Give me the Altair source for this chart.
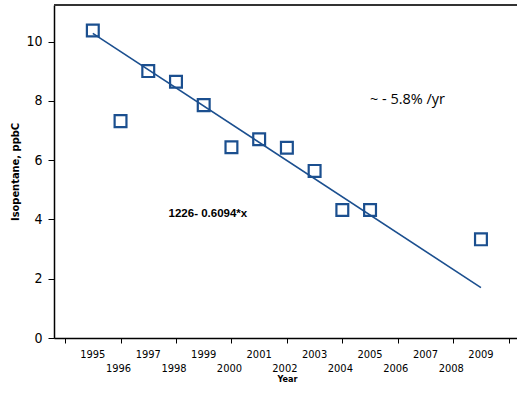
import altair as alt
import pandas as pd

years = [1995, 1996, 1997, 1998, 1999, 2000, 2001, 2002, 2003, 2004, 2005, 2009]
values = [10.38, 7.32, 9.01, 8.65, 7.86, 6.44, 6.71, 6.42, 5.64, 4.32, 4.32, 3.33]
fit_years = [1995, 2009]
fit_values = [10.28, 1.70]
x_ticks = [1994.0, 1994.5, 1995.0, 1995.5, 1996.0, 1996.5, 1997.0, 1997.5, 1998.0, 1998.5,
           1999.0, 1999.5, 2000.0, 2000.5, 2001.0, 2001.5, 2002.0, 2002.5, 2003.0, 2003.5,
           2004.0, 2004.5, 2005.0, 2005.5, 2006.0, 2006.5, 2007.0, 2007.5, 2008.0, 2008.5,
           2009.0, 2009.5, 2010.0]
upper_labels = [1995, 1997, 1999, 2001, 2003, 2005, 2007, 2009]
lower_labels = [1996, 1998, 2000, 2002, 2004, 2006, 2008]
y_ticks = [0, 1, 2, 3, 4, 5, 6, 7, 8, 9, 10, 11]
notes = ["1226- 0.6094*x", "~ - 5.8% /yr"]
note_x = [1999.15, 2006.35]
note_y = [4.18, 8.03]

BLUE = "#1b4f8f"
FONT = "DejaVu Sans Condensed"

pts = pd.DataFrame({"year": years, "value": values})
fit = pd.DataFrame({"year": fit_years, "value": fit_values})
nd = pd.DataFrame({"text": notes, "x": note_x, "y": note_y})
up = pd.DataFrame({"year": upper_labels})
lo = pd.DataFrame({"year": lower_labels})

xscale = alt.Scale(domain=[1993.6, 2010.3], nice=False, zero=False)
yscale = alt.Scale(domain=[0, 11.24], nice=False, zero=False)

xaxis = alt.Axis(
    values=x_ticks, labels=False,
    tickSize=5, tickColor="black", domainColor="black", domainWidth=1.5,
    grid=False,
    title="Year", titleFont=FONT, titleFontSize=9, titleFontWeight="bold",
    titleY=36, titleX=233,
)
yaxis = alt.Axis(
    values=y_ticks,
    labelExpr="datum.value % 2 == 0 ? format(datum.value, 'd') : ''",
    tickSize=6, tickColor="black", domainColor="black", domainWidth=1.5,
    labelFont=FONT, labelFontSize=14, labelColor="black", labelPadding=6,
    labelOverlap=False, grid=False, title="Isopentane, ppbC", titleFont=FONT,
    titleFontSize=11, titleFontWeight="bold", titlePadding=5,
)

points = alt.Chart(pts).mark_point(shape="square", filled=False, size=140, strokeWidth=2.2,
                                   color=BLUE, opacity=1).encode(
    x=alt.X("year:Q", scale=xscale, axis=xaxis),
    y=alt.Y("value:Q", scale=yscale, axis=yaxis),
)
line = alt.Chart(fit).mark_line(color=BLUE, strokeWidth=1.6).encode(
    x=alt.X("year:Q", scale=xscale),
    y=alt.Y("value:Q", scale=yscale),
)
eq = alt.Chart(nd.iloc[[0]]).mark_text(font="Liberation Sans", fontSize=11.5, fontWeight="bold",
                                       color="black").encode(
    x=alt.X("x:Q", scale=xscale), y=alt.Y("y:Q", scale=yscale), text="text:N")
rate = alt.Chart(nd.iloc[[1]]).mark_text(font="Open Sans", fontSize=14.5, color="black").encode(
    x=alt.X("x:Q", scale=xscale), y=alt.Y("y:Q", scale=yscale), text="text:N")
up_txt = alt.Chart(up).mark_text(font=FONT, fontSize=11, color="black", baseline="middle").encode(
    x=alt.X("year:Q", scale=xscale), y=alt.value(355 - 5), text=alt.Text("year:Q", format="d"))
lo_txt = alt.Chart(lo).mark_text(font=FONT, fontSize=11, color="black", baseline="middle",
                                 dx=-2).encode(
    x=alt.X("year:Q", scale=xscale), y=alt.value(369 - 5), text=alt.Text("year:Q", format="d"))
top = alt.Chart(pts).mark_rule(color="#333333", strokeWidth=2).encode(
    y=alt.value(0), x=alt.value(0), x2=alt.value(463))

chart = alt.layer(top, line, points, eq, rate, up_txt, lo_txt).properties(
    width=463, height=333,
    autosize=alt.AutoSizeParams(type="none"),
    padding={"left": 54, "top": 5, "right": 0, "bottom": 62},
).configure_view(stroke=None).configure(background="white")

chart.save("out.html", embed_options={"renderer": "svg", "actions": False})
